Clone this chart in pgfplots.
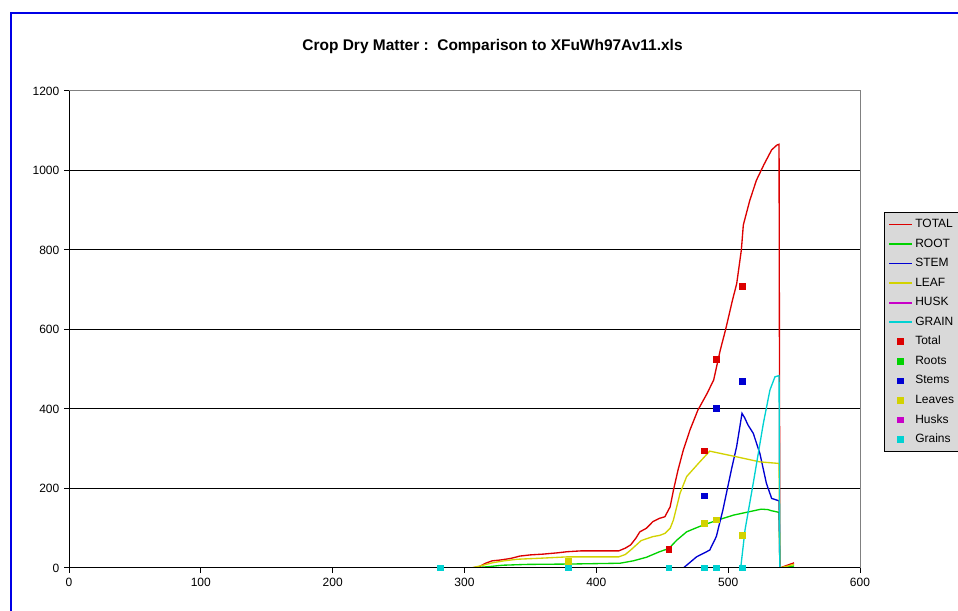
\documentclass[border=0pt]{standalone}
\usepackage{pgfplots}
\pgfplotsset{compat=1.18}
\usepackage{fontspec}
\setmainfont{Liberation Sans}

\definecolor{cTot}{RGB}{220,0,0}
\definecolor{cRoot}{RGB}{0,210,0}
\definecolor{cStem}{RGB}{0,0,210}
\definecolor{cLeaf}{RGB}{210,210,0}
\definecolor{cHusk}{RGB}{200,0,200}
\definecolor{cGrain}{RGB}{0,210,210}
\definecolor{frameblue}{RGB}{0,0,230}

\pgfplotsset{
  curve/.style={color=#1, mark=none, legend image post style={line width=1.3bp}},
  obs/.style={only marks, mark=square*, mark size=2bp, color=#1},
}

\begin{document}
\begin{tikzpicture}
% chart area frame (only left and top edges fall inside the picture)
\draw[frameblue, line width=1.5bp] (8.25bp,-5bp) -- (8.25bp,448.5bp) -- (730bp,448.5bp);
\node[anchor=base, font=\fontsize{11.6bp}{13bp}\selectfont\bfseries]
  at (369.4bp,420.2bp) {Crop Dry Matter :\ \ Comparison to XFuWh97Av11.xls};

\begin{axis}[
  at={(51.75bp,32.25bp)},
  width=593.25bp, height=357.75bp,
  scale only axis,
  xmin=0, xmax=600,
  ymin=0, ymax=1200,
  xtick={0,100,200,300,400,500,600},
  ytick={0,200,400,600,800,1000,1200},
  xtick pos=left, ytick pos=left,
  tick align=outside,
  major tick length=3.75bp,
  tick style={black, line width=0.75bp},
  ymajorgrids,
  major grid style={black, line width=0.75bp},
  axis line style={draw=gray, line width=0.75bp},
  ticklabel style={font=\fontsize{9bp}{10bp}\selectfont},
  /pgf/number format/assume math mode=true,
  /pgf/number format/1000 sep={},
  legend cell align=left,
  legend style={
    at={(1.0303,0.7463)}, anchor=north west,
    fill=white!85!black, draw=black,
    inner xsep=3bp, inner ysep=5bp,
    row sep=6.36bp, column sep=2bp,
    font=\fontsize{9bp}{10bp}\selectfont,
    nodes={inner sep=0pt, text height=6.5bp, text depth=1.8bp}
  },
  every axis plot/.append style={line width=1bp},
]
% simulated curves
\addplot[curve=cTot] coordinates {
(305,0) (311,3) (316,12) (321,18) (327,20) (335,24) (342,30) (350,33) (360,35)
(370,38) (378,41) (388,43) (400,43) (417,43) (422,50) (426,58) (430,75) (433,91)
(438,100) (443,117) (448,125) (452,129) (456,154) (458.5,196) (462,247) (466,297)
(471,347) (477,397) (484,439) (489,473) (494,548) (498,599) (503,670) (506.5,716)
(510,800) (511.5,863) (516.5,926) (521.5,976) (527,1014) (533,1052) (537,1064)
(538.6,1066) (539.2,0) (544,6) (550,13)};
\addlegendentry{TOTAL}
\addplot[curve=cRoot] coordinates {
(305,0) (317,3) (329,7) (347,9) (380,10) (418,12) (428,18) (438,27) (448,41)
(455,49) (461,70) (468.5,91) (475,100) (481,108) (492.5,121) (504,133) (516.6,142)
(525,148) (530,147) (533,144) (538.6,140) (539.2,0) (550,5)};
\addlegendentry{ROOT}
\addplot[curve=cStem] coordinates {
(305,0) (466,0) (476,28) (486,45) (491,79) (496,146) (502.7,251) (506.4,305)
(510.5,389) (512.5,378) (515,360) (519,339) (524,289) (529,213) (533,175)
(538.6,169) (539.2,0) (550,0)};
\addlegendentry{STEM}
\addplot[curve=cLeaf] coordinates {
(305,0) (314,7) (321,13) (330,18) (340,22) (360,25) (378,28) (417,28) (422,34)
(426,45) (434,69) (443,79) (448,82) (452,87) (456,100) (458.5,121) (463.5,188)
(468.5,230) (477.4,263) (486,294) (506,280) (524,267) (538.6,263) (539.2,0) (550,9)};
\addlegendentry{LEAF}
\addplot[curve=cHusk] coordinates {(305,0) (539.2,0) (550,0)};
\addlegendentry{HUSK}
\addplot[curve=cGrain] coordinates {
(305,0) (509.5,0) (512.8,96) (519,213) (526.7,364) (531.7,448) (535.5,481)
(538.6,484) (539.2,0) (550,0)};
\addlegendentry{GRAIN}
% observations
\addplot[obs=cTot] coordinates {
(282,0) (379,18) (455,47) (482,294) (491,525) (511,709)};
\addlegendentry{Total}
\addplot[obs=cRoot] coordinates {
(282,0) (379,0) (455,0) (482,0) (491,0) (511,0)};
\addlegendentry{Roots}
\addplot[obs=cStem] coordinates {
(282,0) (379,0) (455,0) (482,181) (491,402) (511,470)};
\addlegendentry{Stems}
\addplot[obs=cLeaf] coordinates {
(282,0) (379,16) (455,0) (482,112) (491,121) (511,82)};
\addlegendentry{Leaves}
\addplot[obs=cHusk] coordinates {
(282,0) (379,0) (455,0) (482,0) (491,0) (511,0)};
\addlegendentry{Husks}
\addplot[obs=cGrain] coordinates {
(282,0) (379,0) (455,0) (482,0) (491,0) (511,0)};
\addlegendentry{Grains}
\draw[black, line width=0.75bp] (rel axis cs:0,1) -- (rel axis cs:0,0) -- (rel axis cs:1,0);
\end{axis}
\pgfresetboundingbox
\useasboundingbox (0,0) rectangle (718.5bp,458.25bp);
\end{tikzpicture}
\end{document}
